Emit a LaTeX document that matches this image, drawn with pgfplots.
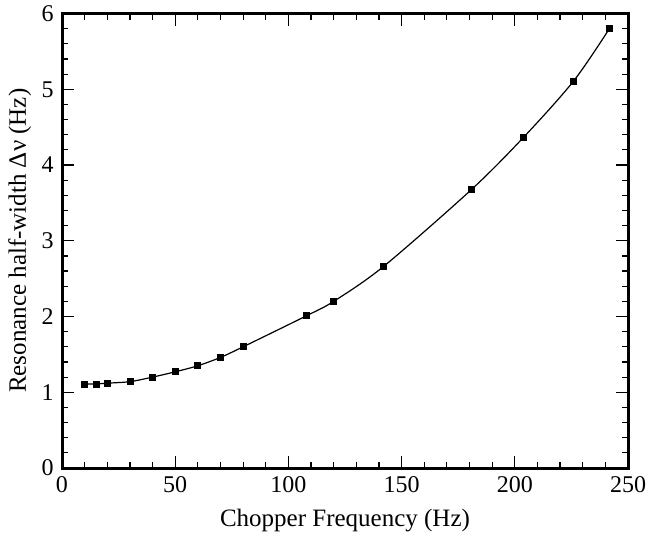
\documentclass[border=0pt]{standalone}
\usepackage{fontspec}
\setmainfont{Liberation Serif}
\usepackage{pgfplots}
\pgfplotsset{compat=1.18}

\begin{document}
\fontsize{12}{14}\selectfont
\begin{tikzpicture}
% page frame: the axis box sits at (0,0), margins as in the original
\useasboundingbox (-31pt,-34.5pt) rectangle (294.5pt,234pt);
\begin{axis}[
  at={(0,0)}, anchor=south west,
  width=283pt,
  height=227.25pt,
  scale only axis,
  xmin=0, xmax=250,
  ymin=0, ymax=6,
  xtick={0,50,...,250},
  ytick={0,1,...,6},
  minor x tick num=4,
  minor y tick num=4,
  tick align=inside,
  major tick length=6pt,
  minor tick length=3pt,
  every tick/.style={black, line width=0.6pt},
  axis line style={line width=1.5pt},
  tick label style={font=\fontsize{12}{14}\selectfont},
  label style={font=\fontsize{12.5}{15}\selectfont},
  /pgf/number format/assume math mode=true,
  xlabel={Chopper Frequency (Hz)},
  ylabel={Resonance half-width Δν (Hz)},
  ylabel style={yshift=-3pt},
]
\addplot[black, line width=0.6pt, smooth, tension=0.5] coordinates {
  (10,1.11) (15,1.11) (20,1.12) (30,1.14) (40,1.20) (50,1.27) (60,1.35)
  (70,1.46) (80,1.60) (108,2.01) (120,2.20) (142,2.66) (181,3.68)
  (204,4.37) (226,5.11) (242,5.81)
};
\addplot[only marks, mark=square*, mark size=1.5pt, black] coordinates {
  (10,1.11) (15,1.11) (20,1.12) (30,1.14) (40,1.20) (50,1.27) (60,1.35)
  (70,1.46) (80,1.60) (108,2.01) (120,2.20) (142,2.66) (181,3.68)
  (204,4.37) (226,5.11) (242,5.81)
};
\end{axis}
\end{tikzpicture}
\end{document}
